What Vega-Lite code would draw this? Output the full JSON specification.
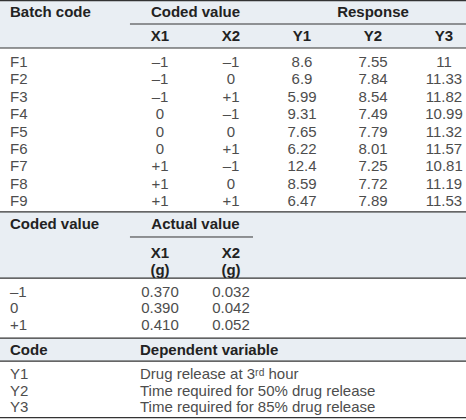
{
  "$schema": "https://vega.github.io/schema/vega-lite/v6.json",
  "width": 466,
  "height": 420,
  "padding": 0,
  "autosize": {"type": "none"},
  "background": "white",
  "config": {"view": {"stroke": null}, "text": {"font": "Liberation Sans", "fontSize": 15}},
  "datasets": {
    "bands": [
      {"top": 0, "bottom": 2.76},
      {"top": 12.18, "bottom": 15.98},
      {"top": 19.43, "bottom": 20.75}
    ],
    "hlines": [
      {"r": 0.04}, {"r": 2.76}, {"r": 12.18}, {"r": 15.98}, {"r": 19.43}, {"r": 20.75}, {"r": 24.0}
    ],
    "sublines": [
      {"r": 1.38, "from": 1.577, "to": 6.31},
      {"r": 13.62, "from": 1.577, "to": 3.31}
    ],
    "cells": [
      {"r": 0.69, "c": 0, "t": "Batch code", "k": "lab", "b": 1},
      {"r": 0.69, "c": 2.5, "t": "Coded value", "k": "cen", "b": 1},
      {"r": 0.69, "c": 5, "t": "Response", "k": "cen", "b": 1},
      {"r": 2.07, "c": 2, "t": "X1", "k": "cen", "b": 1},
      {"r": 2.07, "c": 3, "t": "X2", "k": "cen", "b": 1},
      {"r": 2.07, "c": 4, "t": "Y1", "k": "cen", "b": 1},
      {"r": 2.07, "c": 5, "t": "Y2", "k": "cen", "b": 1},
      {"r": 2.07, "c": 6, "t": "Y3", "k": "cen", "b": 1},

      {"r": 3.56, "c": 0, "t": "F1", "k": "lab", "b": 0},
      {"r": 3.56, "c": 2, "t": "–1", "k": "cen", "b": 0},
      {"r": 3.56, "c": 3, "t": "–1", "k": "cen", "b": 0},
      {"r": 3.56, "c": 4, "t": "8.6", "k": "cen", "b": 0},
      {"r": 3.56, "c": 5, "t": "7.55", "k": "cen", "b": 0},
      {"r": 3.56, "c": 6, "t": "11", "k": "cen", "b": 0},

      {"r": 4.56, "c": 0, "t": "F2", "k": "lab", "b": 0},
      {"r": 4.56, "c": 2, "t": "–1", "k": "cen", "b": 0},
      {"r": 4.56, "c": 3, "t": "0", "k": "cen", "b": 0},
      {"r": 4.56, "c": 4, "t": "6.9", "k": "cen", "b": 0},
      {"r": 4.56, "c": 5, "t": "7.84", "k": "cen", "b": 0},
      {"r": 4.56, "c": 6, "t": "11.33", "k": "cen", "b": 0},

      {"r": 5.56, "c": 0, "t": "F3", "k": "lab", "b": 0},
      {"r": 5.56, "c": 2, "t": "–1", "k": "cen", "b": 0},
      {"r": 5.56, "c": 3, "t": "+1", "k": "cen", "b": 0},
      {"r": 5.56, "c": 4, "t": "5.99", "k": "cen", "b": 0},
      {"r": 5.56, "c": 5, "t": "8.54", "k": "cen", "b": 0},
      {"r": 5.56, "c": 6, "t": "11.82", "k": "cen", "b": 0},

      {"r": 6.56, "c": 0, "t": "F4", "k": "lab", "b": 0},
      {"r": 6.56, "c": 2, "t": "0", "k": "cen", "b": 0},
      {"r": 6.56, "c": 3, "t": "–1", "k": "cen", "b": 0},
      {"r": 6.56, "c": 4, "t": "9.31", "k": "cen", "b": 0},
      {"r": 6.56, "c": 5, "t": "7.49", "k": "cen", "b": 0},
      {"r": 6.56, "c": 6, "t": "10.99", "k": "cen", "b": 0},

      {"r": 7.56, "c": 0, "t": "F5", "k": "lab", "b": 0},
      {"r": 7.56, "c": 2, "t": "0", "k": "cen", "b": 0},
      {"r": 7.56, "c": 3, "t": "0", "k": "cen", "b": 0},
      {"r": 7.56, "c": 4, "t": "7.65", "k": "cen", "b": 0},
      {"r": 7.56, "c": 5, "t": "7.79", "k": "cen", "b": 0},
      {"r": 7.56, "c": 6, "t": "11.32", "k": "cen", "b": 0},

      {"r": 8.56, "c": 0, "t": "F6", "k": "lab", "b": 0},
      {"r": 8.56, "c": 2, "t": "0", "k": "cen", "b": 0},
      {"r": 8.56, "c": 3, "t": "+1", "k": "cen", "b": 0},
      {"r": 8.56, "c": 4, "t": "6.22", "k": "cen", "b": 0},
      {"r": 8.56, "c": 5, "t": "8.01", "k": "cen", "b": 0},
      {"r": 8.56, "c": 6, "t": "11.57", "k": "cen", "b": 0},

      {"r": 9.56, "c": 0, "t": "F7", "k": "lab", "b": 0},
      {"r": 9.56, "c": 2, "t": "+1", "k": "cen", "b": 0},
      {"r": 9.56, "c": 3, "t": "–1", "k": "cen", "b": 0},
      {"r": 9.56, "c": 4, "t": "12.4", "k": "cen", "b": 0},
      {"r": 9.56, "c": 5, "t": "7.25", "k": "cen", "b": 0},
      {"r": 9.56, "c": 6, "t": "10.81", "k": "cen", "b": 0},

      {"r": 10.56, "c": 0, "t": "F8", "k": "lab", "b": 0},
      {"r": 10.56, "c": 2, "t": "+1", "k": "cen", "b": 0},
      {"r": 10.56, "c": 3, "t": "0", "k": "cen", "b": 0},
      {"r": 10.56, "c": 4, "t": "8.59", "k": "cen", "b": 0},
      {"r": 10.56, "c": 5, "t": "7.72", "k": "cen", "b": 0},
      {"r": 10.56, "c": 6, "t": "11.19", "k": "cen", "b": 0},

      {"r": 11.56, "c": 0, "t": "F9", "k": "lab", "b": 0},
      {"r": 11.56, "c": 2, "t": "+1", "k": "cen", "b": 0},
      {"r": 11.56, "c": 3, "t": "+1", "k": "cen", "b": 0},
      {"r": 11.56, "c": 4, "t": "6.47", "k": "cen", "b": 0},
      {"r": 11.56, "c": 5, "t": "7.89", "k": "cen", "b": 0},
      {"r": 11.56, "c": 6, "t": "11.53", "k": "cen", "b": 0},

      {"r": 12.87, "c": 0, "t": "Coded value", "k": "lab", "b": 1},
      {"r": 12.87, "c": 2.5, "t": "Actual value", "k": "cen", "b": 1},
      {"r": 14.54, "c": 2, "t": "X1", "k": "cen", "b": 1},
      {"r": 14.54, "c": 3, "t": "X2", "k": "cen", "b": 1},
      {"r": 15.52, "c": 2, "t": "(g)", "k": "cen", "b": 1},
      {"r": 15.52, "c": 3, "t": "(g)", "k": "cen", "b": 1},

      {"r": 16.78, "c": 0, "t": "–1", "k": "lab", "b": 0},
      {"r": 16.78, "c": 2, "t": "0.370", "k": "cen", "b": 0},
      {"r": 16.78, "c": 3, "t": "0.032", "k": "cen", "b": 0},
      {"r": 17.7, "c": 0, "t": "0", "k": "lab", "b": 0},
      {"r": 17.7, "c": 2, "t": "0.390", "k": "cen", "b": 0},
      {"r": 17.7, "c": 3, "t": "0.042", "k": "cen", "b": 0},
      {"r": 18.68, "c": 0, "t": "+1", "k": "lab", "b": 0},
      {"r": 18.68, "c": 2, "t": "0.410", "k": "cen", "b": 0},
      {"r": 18.68, "c": 3, "t": "0.052", "k": "cen", "b": 0},

      {"r": 20.11, "c": 0, "t": "Code", "k": "lab", "b": 1},
      {"r": 20.11, "c": 2, "t": "Dependent variable", "k": "desc", "b": 1},

      {"r": 21.49, "c": 0, "t": "Y1", "k": "lab", "b": 0},
      {"r": 21.49, "c": 2, "t": "Drug release at 3ʳᵈ hour", "k": "desc", "b": 0},
      {"r": 22.47, "c": 0, "t": "Y2", "k": "lab", "b": 0},
      {"r": 22.47, "c": 2, "t": "Time required for 50% drug release", "k": "desc", "b": 0},
      {"r": 23.39, "c": 0, "t": "Y3", "k": "lab", "b": 0},
      {"r": 23.39, "c": 2, "t": "Time required for 85% drug release", "k": "desc", "b": 0}
    ]
  },
  "layer": [
    {
      "data": {"name": "bands"},
      "mark": {"type": "rect", "color": "#e9eef3"},
      "encoding": {
        "y": {"field": "top", "type": "quantitative", "scale": {"domain": [0, 24.138], "reverse": true, "nice": false, "zero": false}, "axis": null},
        "y2": {"field": "bottom"}
      }
    },
    {
      "data": {"name": "hlines"},
      "mark": {"type": "rule", "color": "#333333", "strokeWidth": 1.2},
      "encoding": {
        "y": {"field": "r", "type": "quantitative", "scale": {"domain": [0, 24.138], "reverse": true, "nice": false, "zero": false}, "axis": null}
      }
    },
    {
      "data": {"name": "sublines"},
      "mark": {"type": "rule", "color": "#333333", "strokeWidth": 1},
      "encoding": {
        "y": {"field": "r", "type": "quantitative", "scale": {"domain": [0, 24.138], "reverse": true, "nice": false, "zero": false}, "axis": null},
        "x": {"field": "from", "type": "quantitative", "scale": {"domain": [-0.2535, 6.31], "nice": false, "zero": false}, "axis": null},
        "x2": {"field": "to"}
      }
    },
    {
      "data": {"name": "cells"},
      "transform": [{"filter": "datum.k == 'cen' && datum.b == 0"}],
      "mark": {"type": "text", "align": "center", "baseline": "middle", "color": "#4d4d4d", "fontSize": 15},
      "encoding": {
        "y": {"field": "r", "type": "quantitative", "scale": {"domain": [0, 24.138], "reverse": true, "nice": false, "zero": false}, "axis": null},
        "x": {"field": "c", "type": "quantitative", "scale": {"domain": [-0.2535, 6.31], "nice": false, "zero": false}, "axis": null},
        "text": {"field": "t"}
      }
    },
    {
      "data": {"name": "cells"},
      "transform": [{"filter": "datum.k == 'cen' && datum.b == 1"}],
      "mark": {"type": "text", "align": "center", "baseline": "middle", "color": "#222222", "fontSize": 15, "fontWeight": "bold"},
      "encoding": {
        "y": {"field": "r", "type": "quantitative", "scale": {"domain": [0, 24.138], "reverse": true, "nice": false, "zero": false}, "axis": null},
        "x": {"field": "c", "type": "quantitative", "scale": {"domain": [-0.2535, 6.31], "nice": false, "zero": false}, "axis": null},
        "text": {"field": "t"}
      }
    },
    {
      "data": {"name": "cells"},
      "transform": [{"filter": "datum.k == 'lab' && datum.b == 0"}],
      "mark": {"type": "text", "align": "left", "baseline": "middle", "color": "#4d4d4d", "fontSize": 15, "dx": -8},
      "encoding": {
        "y": {"field": "r", "type": "quantitative", "scale": {"domain": [0, 24.138], "reverse": true, "nice": false, "zero": false}, "axis": null},
        "x": {"field": "c", "type": "quantitative", "scale": {"domain": [-0.2535, 6.31], "nice": false, "zero": false}, "axis": null},
        "text": {"field": "t"}
      }
    },
    {
      "data": {"name": "cells"},
      "transform": [{"filter": "datum.k == 'lab' && datum.b == 1"}],
      "mark": {"type": "text", "align": "left", "baseline": "middle", "color": "#222222", "fontSize": 15, "fontWeight": "bold", "dx": -8},
      "encoding": {
        "y": {"field": "r", "type": "quantitative", "scale": {"domain": [0, 24.138], "reverse": true, "nice": false, "zero": false}, "axis": null},
        "x": {"field": "c", "type": "quantitative", "scale": {"domain": [-0.2535, 6.31], "nice": false, "zero": false}, "axis": null},
        "text": {"field": "t"}
      }
    },
    {
      "data": {"name": "cells"},
      "transform": [{"filter": "datum.k == 'desc' && datum.b == 0"}],
      "mark": {"type": "text", "align": "left", "baseline": "middle", "color": "#4d4d4d", "fontSize": 15, "dx": -20},
      "encoding": {
        "y": {"field": "r", "type": "quantitative", "scale": {"domain": [0, 24.138], "reverse": true, "nice": false, "zero": false}, "axis": null},
        "x": {"field": "c", "type": "quantitative", "scale": {"domain": [-0.2535, 6.31], "nice": false, "zero": false}, "axis": null},
        "text": {"field": "t"}
      }
    },
    {
      "data": {"name": "cells"},
      "transform": [{"filter": "datum.k == 'desc' && datum.b == 1"}],
      "mark": {"type": "text", "align": "left", "baseline": "middle", "color": "#222222", "fontSize": 15, "fontWeight": "bold", "dx": -20},
      "encoding": {
        "y": {"field": "r", "type": "quantitative", "scale": {"domain": [0, 24.138], "reverse": true, "nice": false, "zero": false}, "axis": null},
        "x": {"field": "c", "type": "quantitative", "scale": {"domain": [-0.2535, 6.31], "nice": false, "zero": false}, "axis": null},
        "text": {"field": "t"}
      }
    }
  ]
}
